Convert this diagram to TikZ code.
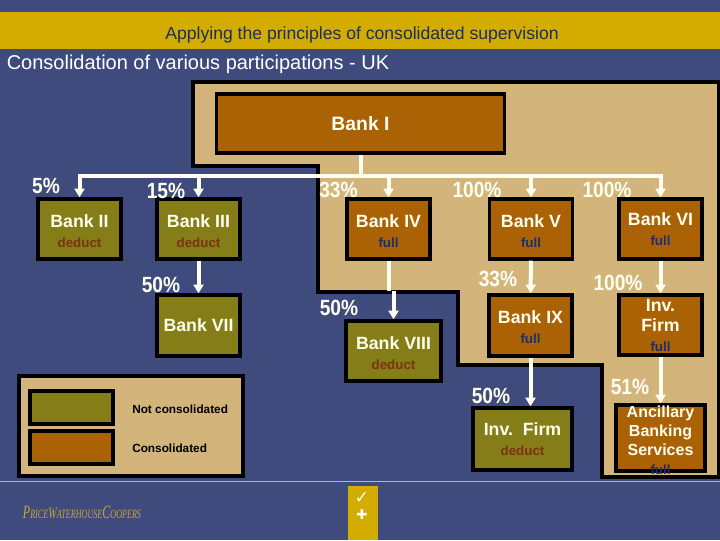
\documentclass[tikz,border=0pt]{standalone}
\usepackage{fontspec}
\usepackage{xcolor}
\usepackage{tikz}
\usetikzlibrary{arrows.meta, positioning}

\setmainfont{Liberation Sans}
\newfontfamily\pctfont[FakeStretch=0.87]{Liberation Sans}
\newfontfamily\symfont{DejaVu Sans}
\newfontfamily\logofont[FakeStretch=0.64]{Liberation Serif}

\definecolor{pagebg}{RGB}{64,75,125}
\definecolor{goldbar}{RGB}{212,172,0}
\definecolor{tanzone}{RGB}{211,181,123}
\definecolor{consbrown}{RGB}{170,98,5}
\definecolor{notolive}{RGB}{133,125,23}
\definecolor{deductred}{RGB}{122,52,18}
\definecolor{fullblue}{RGB}{31,47,107}
\definecolor{titlenavy}{RGB}{23,48,92}
\definecolor{labelwhite}{RGB}{255,255,240}
\definecolor{logogold}{RGB}{196,164,60}

\newcommand{\deductnote}{{\fontsize{10}{15}\selectfont\color{deductred}deduct}}
\newcommand{\fullnote}{{\fontsize{10}{15}\selectfont\color{fullblue}full}}
\newcommand{\topgap}{\rule{0pt}{12.5pt}}

\begin{document}
\begin{tikzpicture}[
        x=0.75pt, y=-0.75pt,
        bankbox/.style={rectangle, draw=black, line width=2.6pt, align=center, inner sep=0pt,
            text=labelwhite, font=\fontsize{13.3}{15}\selectfont\bfseries,
            minimum width=62.5pt, minimum height=45pt},
        consbox/.style={bankbox, fill=consbrown},
        notbox/.style={bankbox, fill=notolive},
        swatch/.style={rectangle, draw=black, line width=2.6pt, minimum width=62.25pt, minimum height=24.75pt},
        pct/.style={text=labelwhite, inner sep=0pt, font=\fontsize{16.5}{18}\selectfont\pctfont\bfseries},
        legendtext/.style={text=black, inner sep=0pt, font=\fontsize{8.85}{10}\selectfont\bfseries},
        wire/.style={draw=labelwhite, line width=3pt},
        tiedarrow/.style={wire, -{Triangle[width=7.5pt,length=6.5pt]}}
    ]
        \useasboundingbox (0,0) rectangle (720,540);
        \fill[pagebg] (0,0) rectangle (720,540);

        % Header bands
        \fill[goldbar] (0,12) rectangle (720,49);
        \node[text=titlenavy, font=\fontsize{13.2}{15}\selectfont] (header) at (362,35) {Applying the principles of consolidated supervision};
        \node[text=white, font=\fontsize{15}{17}\selectfont] (subtitle) at (198,64) {Consolidation of various participations - UK};

        % Consolidated zone
        \draw[fill=tanzone, line width=2.6pt] (193,82) -- (719,82) -- (719,477) -- (602,477) -- (602,365)
            -- (458,365) -- (458,292) -- (318,292) -- (318,166) -- (193,166) -- cycle;

        % Footer
        \draw[tanzone, line width=0.7pt] (0,481) -- (720,481);
        \fill[goldbar] (348,486) rectangle (378,540);
        \node[text=labelwhite, font=\fontsize{13}{14}\selectfont\symfont] (tickmark) at (362,498) {✓};
        \node[text=white, font=\fontsize{10}{12}\selectfont\symfont] (plusmark) at (362,515) {✚};
        \node[text=logogold, font=\logofont\itshape] (logo) at (82,512)
            {\fontsize{14}{14}\selectfont P\fontsize{9.5}{14}\selectfont RICE\fontsize{12}{14}\selectfont W\fontsize{9.5}{14}\selectfont ATERHOUSE\fontsize{14}{14}\selectfont C\fontsize{9.5}{14}\selectfont OOPERS};

        % Banks
        \node[consbox, minimum width=216pt, minimum height=44.25pt, font=\fontsize{14.5}{16}\selectfont\bfseries] (bankI) at (360.5,123.5) {Bank I};
        \node[notbox] (bankII) at (79.5,229) {\topgap Bank II\\\deductnote};
        \node[notbox] (bankIII) at (198.5,229) {\topgap Bank III\\\deductnote};
        \node[consbox] (bankIV) at (388.5,229) {\topgap Bank IV\\\fullnote};
        \node[consbox] (bankV) at (531,229) {\topgap Bank V\\\fullnote};
        \node[consbox] (bankVI) at (660.5,229) {Bank VI\\\fullnote};
        \node[notbox, minimum height=45.75pt] (bankVII) at (198.5,325.5) {Bank VII};
        \node[notbox, minimum width=71.25pt] (bankVIII) at (393.5,351) {\topgap Bank VIII\\\deductnote};
        \node[consbox, minimum height=45.75pt] (bankIX) at (530.5,325.5) {\topgap Bank IX\\\fullnote};
        \node[consbox] (invfirmA) at (660.5,325) {Inv.\\Firm\\\fullnote};
        \node[notbox, minimum width=74.25pt, minimum height=46.5pt] (invfirmB) at (522.5,439) {Inv.~~Firm\\\deductnote};
        \node[consbox, minimum width=66.75pt, minimum height=49.5pt, font=\fontsize{12}{14.25}\selectfont\bfseries] (ancillary) at (660.5,438)
            {\smash{\raisebox{-6pt}{\begin{tabular}[c]{@{}c@{}}Ancillary\\Banking\\Services\\\fullnote\end{tabular}}}};

        % Ownership links
        \coordinate (busjoin) at (360.5,176);
        \coordinate (jogVIII) at (388.5,291);
        \draw[wire] (bankI) -- (busjoin);
        \foreach \target in {bankII, bankIII, bankIV, bankV, bankVI}
            \draw[tiedarrow] (busjoin) -| (\target);
        \draw[tiedarrow] (bankIII) -- (bankVII);
        \draw[wire] (bankIV) -- (jogVIII);
        \draw[tiedarrow] (jogVIII -| bankVIII) -- (bankVIII);
        \draw[tiedarrow] (bankV) -- (bankIX);
        \draw[tiedarrow] (bankVI) -- (invfirmA);
        \draw[tiedarrow] (bankIX.south) -- (bankIX.south |- invfirmB.north);
        \draw[tiedarrow] (invfirmA) -- (ancillary);

        % Percentages
        \node[pct] (pctII) at (46,186) {5\%};
        \node[pct] (pctIII) at (166,191) {15\%};
        \node[pct] (pctIV) at (338.5,190) {33\%};
        \node[pct] (pctV) at (477,190) {100\%};
        \node[pct] (pctVI) at (607,190) {100\%};
        \node[pct] (pctVII) at (161,285) {50\%};
        \node[pct] (pctVIII) at (339,308) {50\%};
        \node[pct] (pctIX) at (498,279) {33\%};
        \node[pct] (pctfirmA) at (618,283) {100\%};
        \node[pct] (pctfirmB) at (491,396) {50\%};
        \node[pct] (pctancillary) at (630,387) {51\%};

        % Legend
        \node[rectangle, draw=black, fill=tanzone, line width=2.6pt, minimum width=168pt, minimum height=75pt] (legend) at (131,426) {};
        \node[swatch, fill=notolive] (swatchnot) at (71.5,407.5) {};
        \node[swatch, fill=consbrown] (swatchcons) at (71.5,447.5) {};
        \node[legendtext, anchor=west] (legendnot) at (132,409) {Not consolidated};
        \node[legendtext, anchor=west] (legendcons) at (132,448) {Consolidated};
    \end{tikzpicture}
\end{document}
